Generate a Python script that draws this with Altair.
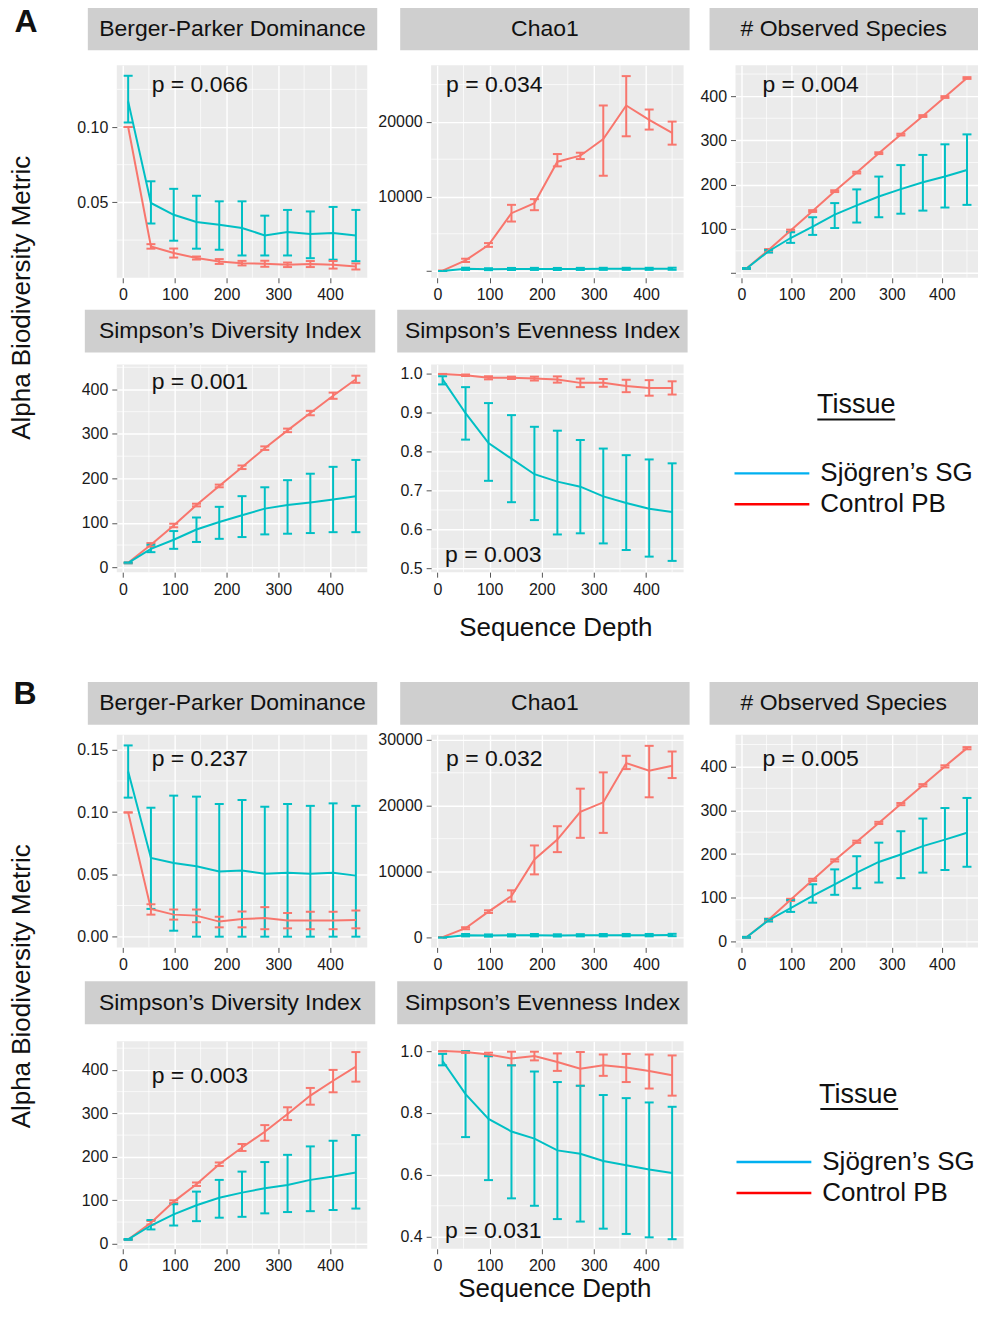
import altair as alt
import pandas as pd

FONT = "Liberation Sans, Arial, Helvetica, sans-serif"

DEPTH = [10, 54, 98, 142, 186, 230, 274, 318, 362, 406, 450]
TISSUES = ["Sjögren’s SG", "Control PB"]
LINE_COLORS = ["#00BFC4", "#F8766D"]
LEGEND_COLORS = ["#00B0F0", "#FF0000"]
X_DOMAIN = [-12, 472]
X_TICKS = [0, 100, 200, 300, 400]
X_MINOR = [50, 150, 250, 350, 450]
METRICS = ["Berger-Parker Dominance", "Chao1", "# Observed Species",
           "Simpson’s Diversity Index", "Simpson’s Evenness Index"]
P_A = ["p = 0.066", "p = 0.034", "p = 0.004", "p = 0.001", "p = 0.003"]
P_B = ["p = 0.237", "p = 0.032", "p = 0.005", "p = 0.003", "p = 0.031"]
Y_LABEL = "Alpha Biodiversity Metric"
X_LABEL = "Sequence Depth"
LEGEND_TITLE = "Tissue"

# ---------------- Section A ----------------
A_BPD_SG = [0.117, 0.0496, 0.0418, 0.037, 0.0352, 0.033, 0.0281, 0.0303, 0.029, 0.0297, 0.028]
A_BPD_SG_LO = [0.103, 0.036, 0.0246, 0.0193, 0.0186, 0.0148, 0.0148, 0.0148, 0.013, 0.012, 0.011]
A_BPD_SG_HI = [0.134, 0.064, 0.059, 0.0544, 0.0507, 0.0507, 0.0412, 0.045, 0.044, 0.047, 0.045]
A_BPD_PB = [0.100, 0.0208, 0.0164, 0.0131, 0.0108, 0.0097, 0.0093, 0.0086, 0.0091, 0.0086, 0.0075]
A_BPD_PB_LO = [0.100, 0.0193, 0.0134, 0.0121, 0.0092, 0.0082, 0.0073, 0.0071, 0.0071, 0.0061, 0.0055]
A_BPD_PB_HI = [0.100, 0.0223, 0.0194, 0.0141, 0.0124, 0.0112, 0.0113, 0.0101, 0.0111, 0.0111, 0.0095]

A_CHAO_SG = [10, 300, 250, 280, 290, 280, 290, 300, 300, 300, 310]
A_CHAO_SG_LO = [10, 150, 120, 140, 150, 140, 150, 160, 160, 160, 170]
A_CHAO_SG_HI = [10, 450, 380, 420, 430, 420, 430, 440, 440, 440, 450]
A_CHAO_PB = [50, 1435, 3500, 7760, 9100, 14660, 15470, 17710, 22200, 20270, 18520]
A_CHAO_PB_LO = [40, 1215, 3250, 6640, 8160, 14035, 15020, 12780, 18070, 18970, 16950]
A_CHAO_PB_HI = [60, 1655, 3750, 8880, 9640, 15690, 15870, 22200, 26140, 21660, 20040]

A_OBS_SG = [10, 49, 79, 105, 132, 153, 173, 189.5, 205, 218, 233]
A_OBS_SG_LO = [9, 46, 68, 86, 101.5, 114, 126, 134, 141, 148, 154]
A_OBS_SG_HI = [11, 52, 92, 126, 158, 189, 218, 244, 267, 291, 313.5]
A_OBS_PB = [10, 52, 96, 140, 185, 227, 271, 313, 355, 398, 441]
A_OBS_PB_LO = [9, 50, 94, 138, 183, 225, 269, 311, 353, 396, 439]
A_OBS_PB_HI = [11, 54, 98, 142, 187, 229, 273, 315, 357, 400, 443]

A_SDI_SG = [10, 41.5, 62, 85, 102, 117, 132, 140, 146, 152.5, 160]
A_SDI_SG_LO = [9, 34, 41.5, 57, 64, 68, 74, 75.5, 77, 79, 79]
A_SDI_SG_HI = [11, 50.6, 81.5, 112, 136, 160, 180, 196, 210.5, 226, 241.5]
A_SDI_PB = [10, 50.5, 94, 140, 183, 225, 268, 308, 347, 386, 423]
A_SDI_PB_LO = [9, 46.5, 90, 137, 180, 221, 264, 304, 342, 379, 415]
A_SDI_PB_HI = [11, 54.5, 98, 143, 186, 229, 272, 312, 352, 393, 431]

A_SEI_SG = [0.986, 0.899, 0.822, 0.782, 0.742, 0.723, 0.71, 0.685, 0.668, 0.653, 0.645]
A_SEI_SG_LO = [0.973, 0.831, 0.725, 0.670, 0.624, 0.587, 0.59, 0.564, 0.547, 0.530, 0.519]
A_SEI_SG_HI = [0.994, 0.966, 0.925, 0.894, 0.864, 0.854, 0.83, 0.808, 0.791, 0.78, 0.77]
A_SEI_PB = [1.0, 0.9966, 0.990, 0.990, 0.988, 0.9856, 0.977, 0.977, 0.969, 0.964, 0.964]
A_SEI_PB_LO = [0.999, 0.9946, 0.986, 0.987, 0.983, 0.9776, 0.966, 0.967, 0.953, 0.944, 0.947]
A_SEI_PB_HI = [1.0, 0.9986, 0.994, 0.993, 0.993, 0.9936, 0.988, 0.987, 0.985, 0.984, 0.981]

# ---------------- Section B ----------------
B_BPD_SG = [0.1325, 0.0632, 0.0591, 0.0565, 0.0524, 0.0532, 0.0505, 0.0513, 0.0505, 0.0513, 0.049]
B_BPD_SG_LO = [0.1116, 0.0223, 0.0048, 0.0, 0.0, 0.0, 0.0, 0.0, 0.0, 0.0, 0.0]
B_BPD_SG_HI = [0.1535, 0.1035, 0.1132, 0.1124, 0.1065, 0.1097, 0.1043, 0.1065, 0.105, 0.107, 0.105]
B_BPD_PB = [0.0997, 0.0223, 0.0177, 0.0169, 0.0121, 0.0142, 0.015, 0.0129, 0.0129, 0.0129, 0.0134]
B_BPD_PB_LO = [0.0997, 0.0177, 0.0137, 0.0116, 0.0075, 0.0075, 0.006, 0.0067, 0.006, 0.006, 0.0067]
B_BPD_PB_HI = [0.0997, 0.026, 0.0218, 0.0218, 0.016, 0.0202, 0.0237, 0.019, 0.020, 0.020, 0.021]

B_CHAO_SG = [10, 350, 300, 330, 350, 320, 340, 350, 360, 360, 380]
B_CHAO_SG_LO = [10, 170, 130, 160, 170, 150, 170, 170, 180, 180, 200]
B_CHAO_SG_HI = [10, 530, 470, 500, 530, 490, 510, 530, 540, 540, 560]
B_CHAO_PB = [50, 1412, 3930, 6300, 11850, 14870, 19060, 20520, 26470, 25310, 26070]
B_CHAO_PB_LO = [40, 1260, 3730, 5445, 9580, 12960, 15130, 15880, 25560, 21280, 24200]
B_CHAO_PB_HI = [60, 1560, 4130, 7160, 13970, 16890, 22590, 25060, 27580, 29090, 28230]

B_OBS_SG = [10, 49, 76.5, 104.5, 131, 157.6, 182, 199, 218, 233, 248.5]
B_OBS_SG_LO = [9, 46, 68, 89, 107, 122, 135, 145, 157.6, 163.6, 171]
B_OBS_SG_HI = [11, 52, 95, 131, 165, 195, 226, 252, 281, 305, 328]
B_OBS_PB = [10, 50, 95.5, 141, 185.6, 228, 271, 314, 357, 400, 441.7]
B_OBS_PB_LO = [9, 47.5, 93, 138.5, 183, 225.5, 268.5, 311.5, 354.5, 397.5, 439]
B_OBS_PB_HI = [11, 52.5, 98, 143.5, 188, 230.5, 273.5, 316.5, 359.5, 402.5, 444]

B_SDI_SG = [10, 42, 67.7, 88.5, 106, 117.7, 127.7, 135, 147, 154.6, 164]
B_SDI_SG_LO = [9, 33, 42, 52, 60, 62, 70, 73, 75, 77.7, 81]
B_SDI_SG_HI = [11, 54.6, 91, 120, 147, 166, 188, 204.6, 224, 237, 250]
B_SDI_PB = [10, 48.5, 97, 137, 183, 221.5, 257.7, 298.5, 341, 375, 407.7]
B_SDI_PB_LO = [9, 44.5, 94, 133, 179, 213.5, 237, 284.6, 320, 348.5, 373]
B_SDI_PB_HI = [11, 52.5, 100, 141, 187, 229.5, 273, 314, 358.5, 400, 441]

B_SEI_SG = [0.968, 0.861, 0.781, 0.74, 0.717, 0.679, 0.668, 0.645, 0.631, 0.617, 0.606]
B_SEI_SG_LO = [0.954, 0.722, 0.583, 0.524, 0.5, 0.457, 0.449, 0.426, 0.409, 0.398, 0.392]
B_SEI_SG_HI = [0.991, 1.0, 0.984, 0.954, 0.934, 0.90, 0.888, 0.858, 0.848, 0.834, 0.820]
B_SEI_PB = [1.0, 0.9968, 0.989, 0.976, 0.984, 0.965, 0.943, 0.954, 0.947, 0.936, 0.922]
B_SEI_PB_LO = [0.999, 0.994, 0.983, 0.954, 0.970, 0.936, 0.888, 0.92, 0.90, 0.879, 0.856]
B_SEI_PB_HI = [1.0, 0.9995, 0.995, 0.998, 0.998, 0.9925, 0.997, 0.989, 0.991, 0.989, 0.986]

# ---------------- styling / layout ----------------
PANEL_BG = "#EBEBEB"
STRIP_BG = "#CFCFCF"
TEXT_COLOR = "#111111"
COL_W = [251, 64, 253, 52, 243]          # panel, gap, panel, gap, panel
ROW_H = [213, 87, 208, 163, 213, 94, 208]  # rowA1, gap, rowA2, gap, rowB1, gap, rowB2


def text_layer(txt, x, y, size, align="left", baseline="middle", weight="normal", angle=0):
    kw = dict(font=FONT, fontSize=size, color=TEXT_COLOR, align=align,
              baseline=baseline, fontWeight=weight)
    if angle:
        kw["angle"] = angle
    return alt.Chart(pd.DataFrame({"t": [txt]})).mark_text(**kw).encode(
        text="t:N", x=alt.value(x), y=alt.value(y))


def spacer(w, h):
    return alt.Chart(pd.DataFrame({"t": [""]})).mark_text().encode(
        text="t:N").properties(width=w, height=h,
                               view=alt.ViewBackground(strokeWidth=0, strokeOpacity=0))


def panel(title, arrays, ydom, yticks, yminor, yfmt, ptext, ppos, strip, w, h,
          hide0=False, extras=()):
    sg, sg_lo, sg_hi, pb, pb_lo, pb_hi = arrays
    rows = []
    for t, m, lo, hi in ((TISSUES[1], pb, pb_lo, pb_hi), (TISSUES[0], sg, sg_lo, sg_hi)):
        for d, v, l, u in zip(DEPTH, m, lo, hi):
            rows.append({"depth": d, "value": v, "lo": l, "hi": u, "tissue": t})
    df = pd.DataFrame(rows)

    xscale = alt.Scale(domain=X_DOMAIN, nice=False, zero=False)
    yscale = alt.Scale(domain=ydom, nice=False, zero=False)
    common = dict(title=None, grid=True, gridColor="white", gridWidth=1.4,
                  domain=False, tickColor="#555555", tickSize=5, tickWidth=1,
                  labelFontSize=16, labelColor="#1a1a1a", labelFont=FONT,
                  labelFlush=False, labelPadding=4)
    xaxis = alt.Axis(values=X_TICKS, format="d", **common)
    yextra = {"labelExpr": "datum.value == 0 ? '' : datum.label"} if hide0 else {}
    yaxis = alt.Axis(values=yticks, format=yfmt, **common, **yextra)
    X = alt.X("depth:Q", scale=xscale, axis=xaxis)

    def Y(field):
        return alt.Y(f"{field}:Q", scale=yscale, axis=yaxis)

    color = alt.Color("tissue:N", scale=alt.Scale(domain=TISSUES, range=LINE_COLORS), legend=None)
    base = alt.Chart(df)

    sx1, sx2, sy1, sy2 = strip
    layers = [
        alt.Chart(pd.DataFrame({"depth": X_MINOR})).mark_rule(color="white", strokeWidth=0.7).encode(x=X),
        alt.Chart(pd.DataFrame({"value": yminor})).mark_rule(color="white", strokeWidth=0.7).encode(y=Y("value")),
        base.mark_rule(strokeWidth=2).encode(x=X, y=Y("lo"), y2="hi:Q", color=color),
        base.mark_tick(orient="horizontal", size=9, thickness=2, opacity=1).encode(x=X, y=Y("lo"), color=color),
        base.mark_tick(orient="horizontal", size=9, thickness=2, opacity=1).encode(x=X, y=Y("hi"), color=color),
        base.mark_line(strokeWidth=2).encode(x=X, y=Y("value"), color=color),
        text_layer(ptext, ppos[0], ppos[1], 23),
        alt.Chart(pd.DataFrame({"t": [title]})).mark_rect(color=STRIP_BG).encode(
            x=alt.value(sx1), x2=alt.value(sx2), y=alt.value(sy1), y2=alt.value(sy2)),
        text_layer(title, (sx1 + sx2) / 2, (sy1 + sy2) / 2, 23, align="center"),
    ]
    layers += list(extras)
    return alt.layer(*layers).properties(
        width=w, height=h, view=alt.ViewBackground(fill=PANEL_BG, strokeWidth=0))


def legend_chart(w, h, cfg):
    ldf = pd.DataFrame({"label": TISSUES})
    yscale = alt.Scale(type="point", domain=TISSUES, range=[cfg["ly1"], cfg["ly2"]], padding=0)
    Y = alt.Y("label:N", scale=yscale, axis=None)
    color = alt.Color("label:N", scale=alt.Scale(domain=TISSUES, range=LEGEND_COLORS), legend=None)
    layers = [
        text_layer(LEGEND_TITLE, cfg["tx"], cfg["ty"], 27, align="center"),
        alt.Chart(pd.DataFrame({"t": [LEGEND_TITLE]})).mark_rule(color=TEXT_COLOR, strokeWidth=2).encode(
            x=alt.value(cfg["ux1"]), x2=alt.value(cfg["ux2"]), y=alt.value(cfg["uy"])),
        alt.Chart(ldf).mark_rule(strokeWidth=2.5).encode(
            x=alt.value(cfg["lx1"]), x2=alt.value(cfg["lx2"]), y=Y, color=color),
        alt.Chart(ldf).mark_text(font=FONT, fontSize=26, color=TEXT_COLOR, align="left",
                                 baseline="middle").encode(
            x=alt.value(cfg["labx"]), y=Y, text="label:N"),
    ]
    return alt.layer(*layers).properties(
        width=w, height=h, view=alt.ViewBackground(strokeWidth=0, strokeOpacity=0))


def section(arr, pvals, doms, ticks, minors, fmts, hide0s, ppos, strips, heights,
            legcfg, label, label_pos, ylab_pos, xlab_pos):
    h1, h2 = heights
    widths = [COL_W[0], COL_W[2], COL_W[4], COL_W[0], COL_W[2], COL_W[4]]
    extras = {
        0: [text_layer(label, label_pos[0], label_pos[1], 32, align="center",
                       baseline="top", weight="bold")],
        3: [text_layer(Y_LABEL, ylab_pos[0], ylab_pos[1], 26, align="center", angle=270)],
        4: [text_layer(X_LABEL, xlab_pos[0], xlab_pos[1], 26, align="center")],
    }
    ps = []
    for i in range(5):
        ps.append(panel(METRICS[i], arr[i], doms[i], ticks[i], minors[i], fmts[i],
                        pvals[i], ppos[i], strips[i], widths[i],
                        h1 if i < 3 else h2, hide0=hide0s[i], extras=extras.get(i, ())))
    leg = legend_chart(widths[5], h2, legcfg)
    row1 = [ps[0], spacer(COL_W[1], h1), ps[1], spacer(COL_W[3], h1), ps[2]]
    row2 = [ps[3], spacer(COL_W[1], h2), ps[4], spacer(COL_W[3], h2), leg]
    return row1, row2


OBS_TICKS = [0, 100, 200, 300, 400]
OBS_MINOR = [50, 150, 250, 350, 450]

rowA1, rowA2 = section(
    arr=[(A_BPD_SG, A_BPD_SG_LO, A_BPD_SG_HI, A_BPD_PB, A_BPD_PB_LO, A_BPD_PB_HI),
         (A_CHAO_SG, A_CHAO_SG_LO, A_CHAO_SG_HI, A_CHAO_PB, A_CHAO_PB_LO, A_CHAO_PB_HI),
         (A_OBS_SG, A_OBS_SG_LO, A_OBS_SG_HI, A_OBS_PB, A_OBS_PB_LO, A_OBS_PB_HI),
         (A_SDI_SG, A_SDI_SG_LO, A_SDI_SG_HI, A_SDI_PB, A_SDI_PB_LO, A_SDI_PB_HI),
         (A_SEI_SG, A_SEI_SG_LO, A_SEI_SG_HI, A_SEI_PB, A_SEI_PB_LO, A_SEI_PB_HI)],
    pvals=P_A,
    doms=[[0.0, 0.141], [-900, 27600], [-11, 470], [-11, 456], [0.49, 1.024]],
    ticks=[[0.05, 0.10], [0, 10000, 20000], OBS_TICKS, OBS_TICKS, [0.5, 0.6, 0.7, 0.8, 0.9, 1.0]],
    minors=[[0.025, 0.075, 0.125], [5000, 15000, 25000], OBS_MINOR, OBS_MINOR,
            [0.55, 0.65, 0.75, 0.85, 0.95]],
    fmts=[".2f", "d", "d", "d", ".1f"],
    hide0s=[False, True, True, False, False],
    ppos=[(35, 20), (15, 20), (27, 20), (35, 17), (14, 191)],
    strips=[(-29, 261, -58, -15), (-31, 259, -58, -15), (-26, 243, -58, -15),
            (-32, 259, -55, -12), (-34, 257, -55, -12)],
    heights=(ROW_H[0], ROW_H[2]),
    legcfg=dict(tx=121, ty=41, ux1=82, ux2=160, uy=55, lx1=-1, lx2=74, ly1=109, ly2=140, labx=85),
    label="A", label_pos=(-91, -58), ylab_pos=(-95, -67), xlab_pos=(125, 264),
)

rowB1, rowB2 = section(
    arr=[(B_BPD_SG, B_BPD_SG_LO, B_BPD_SG_HI, B_BPD_PB, B_BPD_PB_LO, B_BPD_PB_HI),
         (B_CHAO_SG, B_CHAO_SG_LO, B_CHAO_SG_HI, B_CHAO_PB, B_CHAO_PB_LO, B_CHAO_PB_HI),
         (B_OBS_SG, B_OBS_SG_LO, B_OBS_SG_HI, B_OBS_PB, B_OBS_PB_LO, B_OBS_PB_HI),
         (B_SDI_SG, B_SDI_SG_LO, B_SDI_SG_HI, B_SDI_PB, B_SDI_PB_LO, B_SDI_PB_HI),
         (B_SEI_SG, B_SEI_SG_LO, B_SEI_SG_HI, B_SEI_PB, B_SEI_PB_LO, B_SEI_PB_HI)],
    pvals=P_B,
    doms=[[-0.0086, 0.162], [-1500, 30760], [-13, 472], [-11.5, 466], [0.361, 1.032]],
    ticks=[[0.0, 0.05, 0.10, 0.15], [0, 10000, 20000, 30000], OBS_TICKS, OBS_TICKS,
           [0.4, 0.6, 0.8, 1.0]],
    minors=[[0.025, 0.075, 0.125], [5000, 15000, 25000], OBS_MINOR, OBS_MINOR,
            [0.5, 0.7, 0.9]],
    fmts=[".2f", "d", "d", "d", ".1f"],
    hide0s=[False, False, False, False, False],
    ppos=[(35, 24), (15, 24), (27, 24), (35, 35), (14, 190)],
    strips=[(-29, 261, -53, -10), (-31, 259, -53, -10), (-26, 243, -53, -10),
            (-32, 259, -60, -17), (-34, 257, -60, -17)],
    heights=(ROW_H[4], ROW_H[6]),
    legcfg=dict(tx=123, ty=54, ux1=85, ux2=163, uy=68, lx1=1, lx2=76, ly1=121, ly2=152, labx=87),
    label="B", label_pos=(-92, -56), ylab_pos=(-95, -55), xlab_pos=(124, 248),
)


def gap_row(h):
    return [spacer(w, h) for w in COL_W]


cells = rowA1 + gap_row(ROW_H[1]) + rowA2 + gap_row(ROW_H[3]) + rowB1 + gap_row(ROW_H[5]) + rowB2

chart = alt.concat(*cells, columns=5, spacing=0, bounds="flush").resolve_scale(
    x="independent", y="independent", color="independent"
).properties(padding={"left": 0, "top": -3, "right": 0, "bottom": 0}).configure(
    font=FONT).configure_view(strokeWidth=0)

chart.save("out.html", embed_options={"renderer": "svg", "actions": False})
